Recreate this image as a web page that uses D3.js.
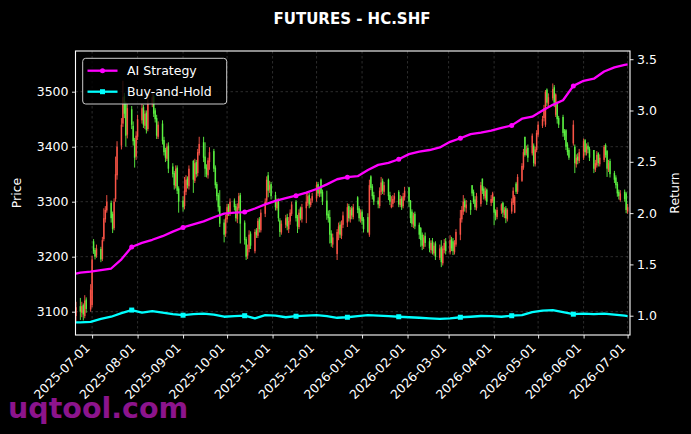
<!DOCTYPE html>
<html><head><meta charset="utf-8">
<script src="https://cdn.jsdelivr.net/npm/d3@7"></script>
<style>body{margin:0;background:#000;} svg{display:block;font-family:"DejaVu Sans",sans-serif;}</style>
</head><body><svg id="c" width="691" height="434"></svg>
<script>
// ---------------- DATA ----------------
const startDate = "2025-06-20", endDate = "2026-07-01"; // weekday candles
const opens = [3092,
3110,3098,3112,3092,3122,3104,3112,3228,3212,3202,
3214,3196,3232,3268,3284,3298,3278,3252,3305,3348,
3402,3442,3492,3478,3422,3468,3438,3412,3382,3418,
3448,3472,3438,3462,3432,3478,3492,3466,3452,3418,
3442,3412,3394,3378,3402,3364,3352,3328,3362,3324,
3302,3292,3318,3342,3328,3374,3338,3372,3352,3388,
3408,3382,3362,3348,3372,3392,3362,3332,3312,3292,
3262,3242,3268,3292,3278,3302,3292,3268,3288,3312,
3262,3232,3202,3214,3242,3210,3248,3238,3268,3248,
3278,3302,3348,3322,3332,3312,3288,3302,3266,3244,
3258,3272,3250,3264,3278,3300,3272,3254,3288,3268,
3288,3298,3312,3294,3302,3306,3332,3314,3340,3318,
3302,3278,3272,3242,3222,3205,3242,3258,3238,3258,
3262,3292,3268,3288,3272,3308,3288,3268,3282,3268,
3272,3240,3346,3328,3312,3302,3292,3318,3338,3318,
3340,3312,3290,3296,3304,3318,3294,3306,3292,3308,
3326,3302,3282,3258,3278,3258,3252,3240,3218,3238,
3228,3212,3228,3206,3224,3198,3218,3188,3212,3228,
3208,3232,3228,3208,3222,3240,3268,3282,3302,3288,
3298,3330,3318,3304,3288,3296,3342,3324,3306,3322,
3298,3302,3309,3282,3272,3284,3298,3276,3288,3268,
3282,3298,3280,3333,3318,3338,3362,3418,3388,3398,
3388,3402,3368,3394,3422,3438,3452,3440,3504,3478,
3488,3508,3458,3479,3452,3454,3428,3430,3404,3394,
3406,3400,3368,3382,3374,3380,3412,3388,3402,3396,
3394,3358,3366,3388,3368,3376,3403,3392,3358,3374,
3352,3344,3332,3318,3303,3318,3315,3282];
const highs = [3118,
3125,3118,3115,3130,3126,3150,3202,3232,3216,3222,
3218,3236,3288,3292,3312,3302,3282,3306,3382,3410,
3452,3520,3498,3482,3478,3474,3446,3416,3428,3458,
3478,3476,3466,3466,3486,3500,3496,3470,3458,3446,
3448,3418,3398,3406,3408,3370,3356,3366,3366,3328,
3310,3345,3348,3346,3366,3376,3378,3376,3396,3418,
3418,3408,3368,3380,3399,3396,3366,3336,3316,3321,
3268,3276,3296,3296,3306,3306,3296,3297,3316,3316,
3266,3236,3222,3248,3246,3250,3252,3270,3272,3286,
3306,3346,3354,3338,3336,3318,3306,3306,3270,3266,
3276,3278,3272,3286,3300,3303,3276,3286,3291,3296,
3316,3316,3316,3306,3316,3336,3336,3326,3342,3322,
3320,3284,3285,3248,3242,3250,3262,3264,3266,3282,
3297,3296,3290,3292,3296,3310,3292,3286,3286,3272,
3279,3340,3348,3332,3318,3308,3326,3345,3342,3336,
3342,3318,3310,3312,3316,3321,3312,3310,3316,3327,
3327,3303,3286,3280,3282,3262,3254,3244,3240,3244,
3234,3230,3234,3226,3228,3222,3230,3220,3232,3234,
3239,3236,3234,3230,3250,3285,3292,3312,3306,3303,
3303,3330,3322,3310,3316,3336,3342,3328,3326,3324,
3312,3318,3309,3286,3290,3297,3300,3290,3292,3288,
3306,3326,3312,3336,3350,3370,3396,3418,3402,3404,
3424,3406,3400,3430,3446,3456,3476,3503,3506,3497,
3515,3512,3497,3482,3456,3458,3432,3432,3408,3398,
3448,3404,3386,3388,3396,3415,3414,3406,3408,3400,
3394,3376,3392,3390,3386,3403,3406,3394,3376,3378,
3356,3348,3336,3322,3321,3322,3318,3296];
const lows = [3082,
3085,3090,3084,3088,3098,3100,3108,3205,3195,3198,
3190,3192,3228,3262,3280,3262,3243,3248,3300,3340,
3395,3436,3452,3400,3415,3432,3402,3362,3376,3412,
3442,3434,3432,3424,3428,3472,3454,3444,3414,3414,
3404,3384,3372,3374,3352,3344,3322,3324,3314,3280,
3282,3286,3312,3324,3322,3316,3334,3344,3346,3384,
3372,3345,3344,3342,3358,3354,3324,3302,3282,3254,
3226,3236,3262,3274,3274,3284,3264,3261,3284,3224,
3222,3194,3196,3208,3214,3206,3234,3234,3244,3244,
3272,3296,3308,3316,3304,3284,3284,3264,3236,3240,
3252,3248,3243,3258,3274,3264,3243,3250,3266,3262,
3261,3292,3288,3290,3298,3300,3310,3308,3309,3294,
3267,3262,3224,3218,3216,3194,3230,3234,3232,3252,
3254,3264,3262,3268,3268,3279,3264,3262,3258,3244,
3243,3236,3321,3304,3294,3288,3288,3312,3314,3312,
3303,3294,3288,3290,3298,3290,3290,3285,3288,3302,
3290,3261,3254,3252,3250,3232,3218,3212,3214,3218,
3208,3206,3204,3202,3194,3194,3181,3184,3206,3204,
3204,3210,3203,3204,3218,3230,3262,3276,3282,3280,
3276,3310,3296,3285,3284,3291,3314,3304,3302,3294,
3292,3298,3257,3266,3268,3278,3272,3270,3261,3264,
3278,3294,3279,3314,3314,3336,3358,3382,3384,3372,
3384,3364,3364,3390,3418,3434,3446,3436,3474,3472,
3484,3472,3454,3442,3434,3418,3412,3394,3384,3376,
3402,3352,3362,3368,3370,3376,3384,3384,3388,3374,
3352,3354,3362,3364,3364,3372,3380,3345,3354,3344,
3334,3324,3309,3304,3300,3300,3279,3278];
const closes = [3108,
3100,3110,3095,3120,3105,3140,3195,3210,3200,3215,
3195,3230,3270,3285,3300,3270,3250,3300,3350,3400,
3440,3490,3460,3420,3470,3440,3410,3380,3420,3450,
3470,3440,3460,3430,3480,3490,3460,3450,3420,3440,
3410,3390,3380,3400,3360,3350,3330,3360,3320,3300,
3290,3320,3340,3330,3360,3340,3370,3350,3390,3405,
3380,3360,3350,3375,3390,3360,3330,3310,3290,3260,
3240,3270,3290,3280,3300,3290,3270,3290,3310,3260,
3230,3200,3215,3240,3220,3245,3240,3265,3250,3280,
3300,3340,3320,3330,3310,3290,3300,3270,3245,3260,
3270,3255,3265,3280,3295,3270,3255,3280,3270,3290,
3300,3310,3295,3300,3310,3330,3315,3320,3315,3300,
3275,3270,3240,3225,3235,3245,3255,3240,3260,3275,
3290,3270,3285,3275,3290,3285,3270,3280,3265,3250,
3245,3330,3325,3310,3300,3295,3320,3335,3320,3330,
3310,3300,3295,3305,3310,3295,3305,3290,3310,3320,
3300,3270,3260,3275,3255,3240,3230,3220,3235,3225,
3215,3225,3210,3220,3200,3215,3190,3215,3225,3210,
3230,3215,3210,3225,3245,3270,3285,3300,3290,3295,
3285,3315,3300,3290,3310,3330,3320,3310,3320,3300,
3305,3315,3280,3275,3285,3295,3280,3285,3270,3285,
3300,3320,3309,3318,3345,3365,3390,3385,3395,3380,
3420,3370,3395,3425,3440,3450,3470,3500,3480,3490,
3505,3480,3495,3450,3440,3425,3420,3400,3390,3380,
3440,3370,3380,3375,3390,3410,3390,3400,3395,3380,
3360,3370,3385,3370,3380,3400,3385,3360,3370,3350,
3340,3330,3315,3310,3315,3305,3285,3290];
// returns sampled weekly (first day, every Monday, last day)
const aiReturn = [1.41,
1.42,1.43,1.445,1.46,1.55,1.67,1.71,1.74,1.775,1.82,
1.86,1.89,1.92,1.96,1.995,2.005,2.01,2.045,2.085,2.12,
2.145,2.17,2.20,2.235,2.28,2.33,2.35,2.36,2.42,2.47,
2.49,2.525,2.575,2.60,2.615,2.64,2.695,2.73,2.77,2.785,
2.805,2.83,2.855,2.92,2.94,3.0,3.055,3.10,3.24,3.29,
3.31,3.38,3.42,3.445,
3.45];
const bhReturn = [0.935,
0.935,0.94,0.97,0.99,1.025,1.055,1.03,1.045,1.03,1.015,
1.005,1.015,1.02,1.01,0.99,0.995,1.0,0.975,1.005,1.0,
0.985,0.995,1.0,1.005,0.995,0.98,0.985,0.995,1.005,1.0,
0.995,0.99,0.985,0.98,0.975,0.97,0.975,0.985,0.99,0.997,
0.995,0.99,1.0,1.005,1.035,1.05,1.055,1.035,1.015,1.02,
1.015,1.02,1.01,1.0,
0.997];
const markerPoints = [6,11,17,22,27,32,38,43,49];
const priceTicks = [3100,3200,3300,3400,3500];
const returnTicks = [1.0,1.5,2.0,2.5,3.0,3.5];
const dateTicks = ["2025-07-01","2025-08-01","2025-09-01","2025-10-01","2025-11-01","2025-12-01",
"2026-01-01","2026-02-01","2026-03-01","2026-04-01","2026-05-01","2026-06-01","2026-07-01"];
const titleText = "FUTURES - HC.SHF";
const seriesNames = ["AI Strategy","Buy-and-Hold"];

// ---------------- CHART ----------------
const svg = d3.select("#c");
const L = 75.5, R = 630, T = 51, B = 335;
const parse = d3.utcParse("%Y-%m-%d");
const dates = d3.utcDay.range(parse(startDate), d3.utcDay.offset(parse(endDate), 1))
  .filter(d => d.getUTCDay() % 6 !== 0);
const n = dates.length;
const lineDates = dates.filter((d, i) => i === 0 || (i - 1) % 5 === 0 || i === n - 1);

const x = d3.scaleUtc()
  .domain([new Date(Date.UTC(2025, 5, 19, 16, 30)), new Date(Date.UTC(2026, 6, 2, 15))])
  .range([L, R]);
const yP = d3.scaleLinear().domain([3057.6, 3574]).range([B, T]);
const yR = d3.scaleLinear().domain([0.812, 3.58]).range([B, T]);
const fg = "#ffffff";

svg.append("rect").attr("width", 691).attr("height", 434).attr("fill", "#000");

svg.append("defs").append("clipPath").attr("id", "clip")
  .append("rect").attr("x", L).attr("y", T).attr("width", R - L).attr("height", B - T);

// grid
const grid = svg.append("g").attr("stroke", "#888").attr("stroke-opacity", 0.55)
  .attr("stroke-width", 0.6).attr("stroke-dasharray", "2.5,2.5");
grid.selectAll(".gx").data(dateTicks).join("line")
  .attr("x1", d => x(parse(d))).attr("x2", d => x(parse(d))).attr("y1", T).attr("y2", B);
grid.selectAll(".gy").data(priceTicks).join("line")
  .attr("x1", L).attr("x2", R).attr("y1", d => yP(d)).attr("y2", d => yP(d));

// candles
const up = "#ff5548", down = "#5cf542";
const cg = svg.append("g").attr("clip-path", "url(#clip)");
const idx = d3.range(n);
cg.selectAll(".wick").data(idx).join("line")
  .attr("x1", i => x(dates[i])).attr("x2", i => x(dates[i]))
  .attr("y1", i => yP(highs[i])).attr("y2", i => yP(lows[i]))
  .attr("stroke", i => closes[i] >= opens[i] ? up : down).attr("stroke-width", 1).attr("stroke-opacity", 0.9);
cg.selectAll(".body").data(idx).join("rect")
  .attr("x", i => x(dates[i]) - 0.75).attr("width", 1.5)
  .attr("y", i => yP(Math.max(opens[i], closes[i])))
  .attr("height", i => Math.max(0.6, Math.abs(yP(opens[i]) - yP(closes[i]))))
  .attr("fill", i => closes[i] >= opens[i] ? up : down).attr("fill-opacity", 0.9);

// return lines
const line = d3.line().x((d, i) => x(lineDates[i])).y(d => yR(d));
const lg = svg.append("g").attr("clip-path", "url(#clip)");
lg.append("path").datum(aiReturn).attr("d", line).attr("fill", "none")
  .attr("stroke", "#ff00ff").attr("stroke-width", 2.3).attr("stroke-linejoin", "round");
lg.append("path").datum(bhReturn).attr("d", line).attr("fill", "none")
  .attr("stroke", "#00ffff").attr("stroke-width", 2.3).attr("stroke-linejoin", "round");
lg.selectAll(".mA").data(markerPoints).join("circle")
  .attr("cx", i => x(lineDates[i])).attr("cy", i => yR(aiReturn[i])).attr("r", 2.5).attr("fill", "#ff00ff");
lg.selectAll(".mB").data(markerPoints).join("rect")
  .attr("x", i => x(lineDates[i]) - 2.5).attr("y", i => yR(bhReturn[i]) - 2.5)
  .attr("width", 5).attr("height", 5).attr("fill", "#00ffff");

// axes
const axB = d3.axisBottom(x).tickValues(dateTicks.map(parse)).tickFormat(d3.utcFormat("%Y-%m-%d")).tickSize(3.5).tickPadding(3);
const axL = d3.axisLeft(yP).tickValues(priceTicks).tickFormat(d3.format("d")).tickSize(3.5).tickPadding(3.5);
const axR = d3.axisRight(yR).tickValues(returnTicks).tickFormat(d3.format(".1f")).tickSize(3.5).tickPadding(3.5);
function style(g) {
  g.select(".domain").remove();
  g.selectAll("line").attr("stroke", fg).attr("stroke-width", 0.9);
  g.selectAll("text").attr("fill", fg).attr("font-size", 12.5).attr("font-family", "DejaVu Sans");
}
const gB = svg.append("g").attr("transform", `translate(0,${B})`).call(axB).call(style);
gB.selectAll("text").attr("text-anchor", "end").attr("dy", null).attr("y", null)
  .attr("transform", "translate(-2,13.5) rotate(-45)");
svg.append("g").attr("transform", `translate(${L},0)`).call(axL).call(style);
svg.append("g").attr("transform", `translate(${R},0)`).call(axR).call(style);

// frame
svg.append("rect").attr("x", L).attr("y", T).attr("width", R - L).attr("height", B - T)
  .attr("fill", "none").attr("stroke", fg).attr("stroke-width", 1.1);

// labels
svg.append("text").attr("x", 352).attr("y", 23.5).attr("text-anchor", "middle")
  .attr("fill", fg).attr("font-size", 15).attr("font-weight", "bold").text(titleText);
svg.append("text").attr("transform", `translate(21,${(T + B) / 2}) rotate(-90)`).attr("text-anchor", "middle")
  .attr("fill", fg).attr("font-size", 12.5).text("Price");
svg.append("text").attr("transform", `translate(679,${(T + B) / 2}) rotate(-90)`).attr("text-anchor", "middle")
  .attr("fill", fg).attr("font-size", 12.5).text("Return");

// legend
const lgd = svg.append("g");
lgd.append("rect").attr("x", 82.7).attr("y", 58.3).attr("width", 144).attr("height", 45.7).attr("rx", 3)
  .attr("fill", "#000").attr("fill-opacity", 0.8).attr("stroke", "#cccccc").attr("stroke-width", 1);
const legendColors = ["#ff00ff", "#00ffff"];
seriesNames.forEach((name, k) => {
  const yy = 70.7 + k * 21;
  lgd.append("line").attr("x1", 87.5).attr("x2", 117.5).attr("y1", yy).attr("y2", yy)
    .attr("stroke", legendColors[k]).attr("stroke-width", 2.3);
  if (k === 0) lgd.append("circle").attr("cx", 102.5).attr("cy", yy).attr("r", 2.5).attr("fill", legendColors[k]);
  else lgd.append("rect").attr("x", 100).attr("y", yy - 2.5).attr("width", 5).attr("height", 5).attr("fill", legendColors[k]);
  lgd.append("text").attr("x", 127).attr("y", yy + 4.6).attr("fill", fg).attr("font-size", 12.5).text(name);
});

// watermark
svg.append("text").attr("x", 8).attr("y", 418).attr("fill", "#8c148c").attr("font-size", 28.5)
  .attr("font-weight", "bold").text("uqtool.com");
</script></body></html>
